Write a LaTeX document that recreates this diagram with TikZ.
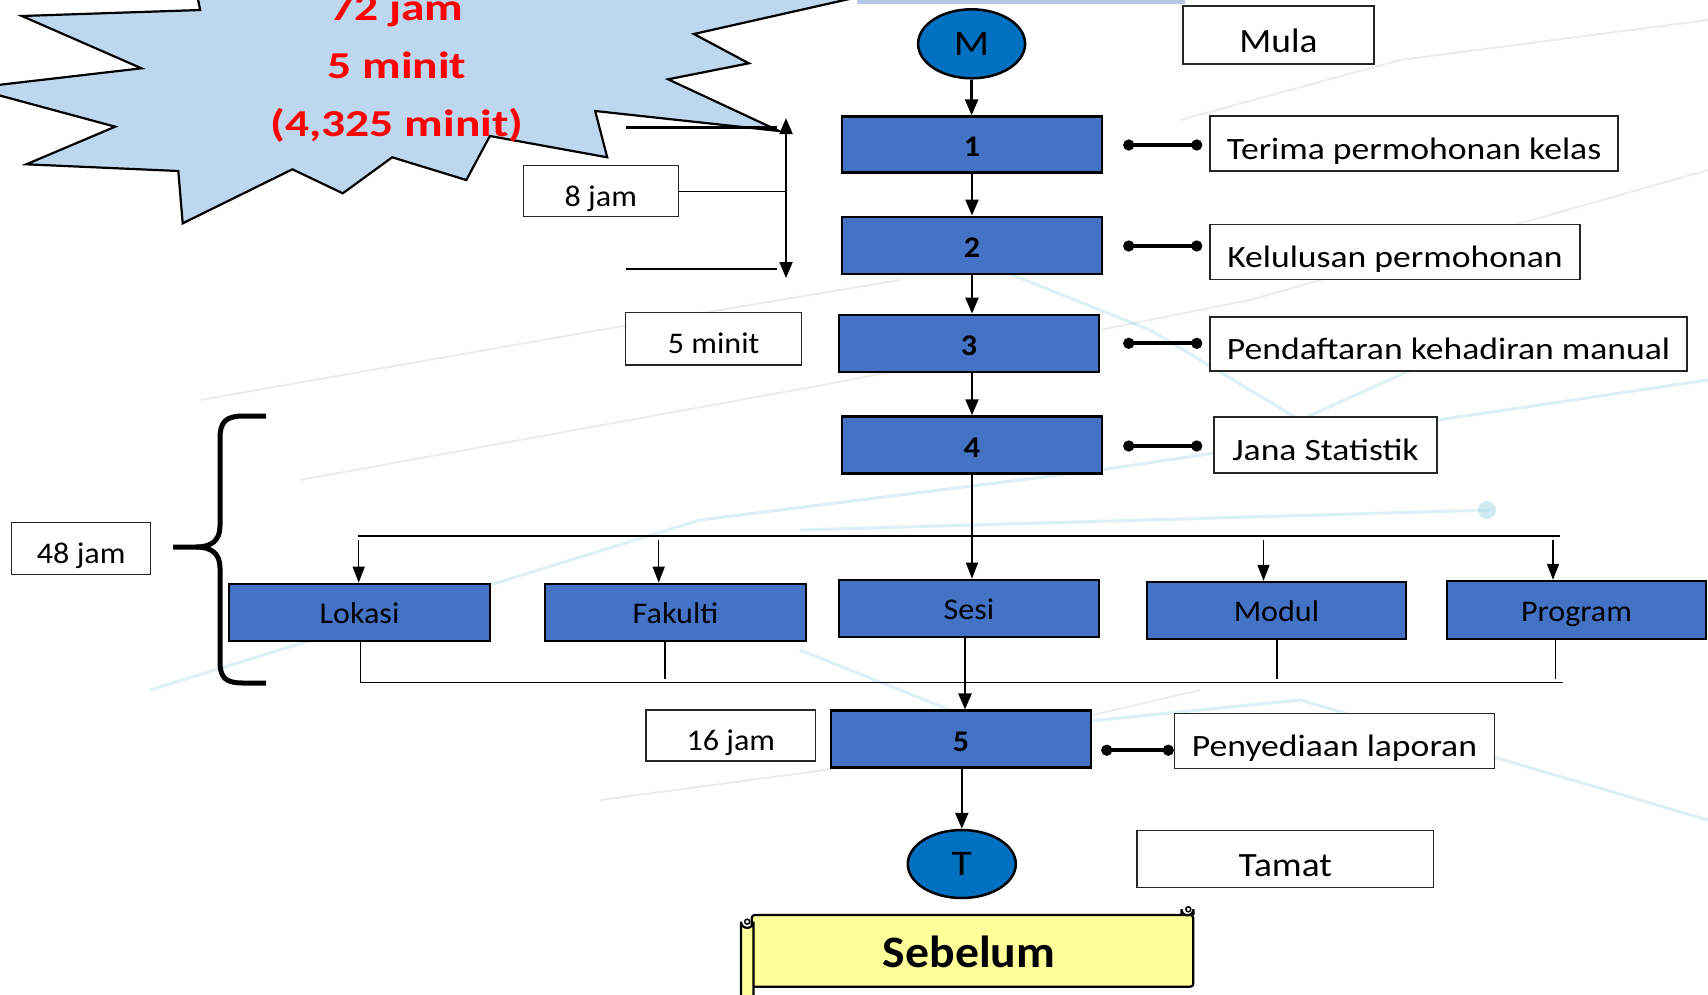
\documentclass[tikz,border=0pt]{standalone}
\usepackage{fontspec}
\setmainfont{Carlito}
\newfontfamily\labfont{Carlito}[FakeStretch=1.15]
\newfontfamily\endfont{Carlito}[FakeStretch=1.1]
\newfontfamily\boxfont{Carlito}[FakeStretch=1.07]
\newfontfamily\redfont{Carlito}[FakeStretch=1.25]
\newfontfamily\sebfont{Carlito}[FakeStretch=1.06]
\usetikzlibrary{arrows.meta,calc,shapes.geometric}
\definecolor{boxblue}{HTML}{4472C4}
\definecolor{ovalblue}{HTML}{0070C0}
\definecolor{burst}{HTML}{BDD7EE}
\definecolor{topband}{HTML}{B4C7E7}
\definecolor{scrollyel}{HTML}{FFFF99}
\definecolor{bgcyan}{HTML}{8CCFE0}
\definecolor{bggray}{HTML}{C8CCD0}
\begin{document}
\begin{tikzpicture}[x=1pt,y=-1pt,
  proc/.style={draw=black, line width=2.5pt, fill=boxblue, inner sep=0pt, text height=27pt, text depth=3pt, font=\boxfont\fontsize{30}{36}\selectfont\bfseries},
  cat/.style={draw=black, line width=2.5pt, fill=boxblue, inner sep=0pt, text height=25pt, text depth=3pt, font=\boxfont\fontsize{30}{36}\selectfont},
  lab/.style={draw=black!85, line width=1.5pt, fill=white, inner sep=0pt, text height=34pt, text depth=3pt, font=\labfont\fontsize{31}{36}\selectfont},
  tlab/.style={draw=black!85, line width=1.5pt, fill=white, inner sep=0pt, text height=33pt, text depth=3pt, font=\boxfont\fontsize{30}{36}\selectfont},
  elab/.style={draw=black!85, line width=1.5pt, fill=white, inner sep=0pt, text height=38.5pt, text depth=4pt, font=\endfont\fontsize{34}{38}\selectfont},
  term/.style={ellipse, draw=black, line width=2.5pt, fill=ovalblue, inner sep=0pt, font=\labfont\fontsize{36}{40}\selectfont},
  arr/.style={line width=2.5pt, -{Triangle[length=16pt,width=13pt]}},
  tarr/.style={line width=1.5pt, -{Triangle[length=16pt,width=12pt]}},
  dumb/.style={line width=4pt, {Circle[length=11pt]}-{Circle[length=11pt]}},
  thinln/.style={line width=1.2pt},
  midln/.style={line width=2.5pt},
  redtxt/.style={text=red, font=\redfont\fontsize{38}{44}\selectfont\bfseries, anchor=base, inner sep=0pt},
  bgline/.style={line width=3pt, bgcyan, opacity=0.3},
  bggline/.style={line width=2pt, bggray, opacity=0.35}
]
\useasboundingbox (0,0) rectangle (1708,994);
\fill[white] (0,0) rectangle (1708,994);
\begin{scope}
\clip (0,0) rectangle (1708,994);
% faint background circuit hints
\draw[bgline] (150,690) -- (700,520) -- (1100,470) -- (1708,380);
\draw[bgline] (800,530) -- (1490,510);
\fill[bgcyan, opacity=0.4] (1487,510) circle (9);
\draw[bgline] (1000,270) -- (1150,330) -- (1300,420) -- (1500,330);
\draw[bgline] (800,650) -- (1000,730) -- (1300,700) -- (1708,820);
\draw[bggline] (300,480) -- (850,380) -- (1250,300) -- (1708,170);
\draw[bggline] (200,400) -- (600,330) -- (900,280);
\draw[bggline] (600,800) -- (900,760) -- (1200,690);
\draw[bggline] (1180,120) -- (1400,60) -- (1708,20);
% top band
\fill[topband] (856.7,-10) rectangle (1185,4);
% starburst
\filldraw[fill=burst, draw=black, line width=2.2pt, line join=miter]
 (192,-30) -- (200.2,10) -- (21.9,16) -- (141.5,68.3) -- (-28,88) -- (115.2,126.7)
 -- (26.3,164.3) -- (178.3,171) -- (182.7,223.3) -- (292.4,169.3) -- (342.8,193.3)
 -- (392.2,157.3) -- (466.3,180) -- (489.9,136) -- (607.2,157.3) -- (595.2,111)
 -- (779,131) -- (668.1,79.3) -- (748.8,63.3) -- (693.9,34) -- (978,-30) -- cycle;
% scroll
\filldraw[fill=scrollyel, draw=black, line width=2.2pt, rounded corners=3pt]
 (751.7,915) rectangle (1193.3,986.7);
\filldraw[fill=scrollyel, draw=black, line width=2.2pt]
 (1181.5,915) -- (1181.5,909.3) arc (180:0:6) -- (1193.5,915);
\draw[line width=1.5pt] (1188.3,909.3) circle (2.5);
\filldraw[fill=scrollyel, draw=black, line width=2.2pt]
 (741,1000) -- (741,921.7) arc (180:0:6.2) -- (753.4,1000);
\draw[line width=1.5pt] (747.2,921.7) circle (2.5);
\end{scope}
\node[font=\sebfont\fontsize{45}{50}\selectfont\bfseries, inner sep=0pt] (seb) at (969,952) {Sebelum};
% starburst text
\node[redtxt] (r1) at (397,20) {72 jam};
\node[redtxt] (r2) at (397,78) {5 minit};
\node[redtxt] (r3) at (397,136) {(4,325 minit)};

% main column
\node[term, minimum width=107pt, minimum height=69pt] (M) at (971.6,43.8) {M};
\node[proc, minimum width=260pt, minimum height=56pt] (b1) at (972,144.6) {1};
\node[proc, minimum width=260pt, minimum height=57pt] (b2) at (972,245.3) {2};
\node[proc, minimum width=260pt, minimum height=57pt] (b3) at (969,343.3) {3};
\node[proc, minimum width=260pt, minimum height=57pt] (b4) at (972,445) {4};

\node[elab, minimum width=191pt, minimum height=58pt] (mula) at (1278.5,35) {Mula};
\node[lab, minimum width=408pt, minimum height=55pt] (t1) at (1414,143.7) {Terima permohonan kelas};
\node[lab, minimum width=370pt, minimum height=55pt] (t2) at (1395,251.8) {Kelulusan permohonan};
\node[lab, minimum width=477pt, minimum height=54pt] (t3) at (1448.5,343.8) {Pendaftaran kehadiran manual};
\node[lab, minimum width=223pt, minimum height=56pt] (t4) at (1325.5,444.8) {Jana Statistik};

\draw[arr] (M.south) -- (M.south |- b1.north);
\draw[arr] (b1.south) -- (b1.south |- b2.north);
\draw[arr] (b2.south) -- (b2.south |- b3.north);
\draw[arr] (b3.south -| b2.south) -- (b2.south |- b4.north);

\draw[dumb] ($(b1.east)+(20,0.4)$) -- ($(b1.east -| t1.west)+(-7,0.4)$);
\draw[dumb] ($(b2.east)+(20,0.7)$) -- ($(b2.east -| t2.west)+(-7,0.7)$);
\draw[dumb] ($(b3.east)+(23,0)$) -- ($(b3.east -| t3.west)+(-7,0)$);
\draw[dumb] ($(b4.east)+(20,1)$) -- ($(b4.east -| t4.west)+(-11,1)$);

% time annotations (top)
\node[tlab, minimum width=155pt, minimum height=51pt] (j8) at (600.8,191.2) {8 jam};
\node[tlab, minimum width=176pt, minimum height=52.7pt] (m5) at (713.7,338.7) {5 minit};
\coordinate (vt) at (786,118);
\coordinate (vb) at (786,278);
\coordinate (ht) at (625.7,127.3);
\coordinate (hb) at (625.7,269);
\draw[line width=2pt, {Triangle[length=16pt,width=13pt]}-{Triangle[length=16pt,width=13pt]}] (vt) -- (vb);
\draw[thinln] (j8.east) -- (j8.east -| vt);
\draw[midln] (ht) -- ($(ht -| vt)+(-9,0)$);
\draw[midln] (hb) -- ($(hb -| vt)+(-9,0)$);

% category row
\coordinate (hl) at (358,536);
\coordinate (hr) at (1560,536);
\draw[thinln] (hl) -- (hr);
\node[cat, minimum width=261pt, minimum height=57pt] (lok) at (359.5,612.4) {Lokasi};
\node[cat, minimum width=261pt, minimum height=57pt] (fak) at (675.5,612.4) {Fakulti};
\node[cat, minimum width=260pt, minimum height=57pt] (ses) at (969,608.4) {Sesi};
\node[cat, minimum width=259pt, minimum height=57pt] (mod) at (1276.5,610.5) {Modul};
\node[cat, minimum width=259pt, minimum height=58pt] (prg) at (1576.5,610) {Program};

\coordinate (aL) at (358.7,540);
\coordinate (aF) at (658.7,540);
\coordinate (aM) at (1263.5,540);
\coordinate (aP) at (1553,540);
\draw[tarr] (aL) -- (aL |- lok.north);
\draw[tarr] (aF) -- (aF |- fak.north);
\draw[tarr] (b4.south -| b2.south) -- (b2.south |- ses.north);
\draw[tarr] (aM) -- (aM |- mod.north);
\draw[tarr] (aP) -- (aP |- prg.north);

\coordinate (bl) at (360.6,682.7);
\coordinate (br) at (1563,682.7);
\draw[thinln] (bl) -- (br);
\draw[thinln] (lok.south -| bl) -- (bl);
\coordinate (dF) at (665,679);
\coordinate (dM) at (1277,679);
\coordinate (dP) at (1555.8,679);
\draw[thinln] (dF |- fak.south) -- (dF);
\draw[thinln] (dM |- mod.south) -- (dM);
\draw[thinln] (dP |- prg.south) -- (dP);

% brace and 48 jam
\node[tlab, minimum width=139pt, minimum height=51.6pt] (j48) at (81.2,548.5) {48 jam};
\draw[line width=5pt, line cap=butt]
 (266,416) -- (243,416) .. controls (226,416) and (220,422) .. (220,438) -- (220,526)
 .. controls (220,540) and (212,547) .. (196,547) -- (173,547);
\draw[line width=5pt, line cap=butt]
 (196,547) .. controls (212,547) and (220,554) .. (220,568) -- (220,662)
 .. controls (220,678) and (226,683) .. (243,683) -- (266,683);

% step 5 and end
\node[proc, minimum width=260pt, minimum height=57pt] (b5) at (961,739.2) {5};
\coordinate (s5) at (965,636);
\draw[arr] (s5) -- (s5 |- b5.north);
\node[lab, minimum width=320pt, minimum height=55pt] (pl) at (1334.5,740.8) {Penyediaan laporan};
\draw[dumb] ($(b5.east)+(9,11)$) -- ($(b5.east -| pl.west)+(0,11)$);
\node[tlab, minimum width=169.6pt, minimum height=51pt] (j16) at (730.8,735.5) {16 jam};
\node[term, minimum width=108pt, minimum height=68pt] (T) at (961.8,864) {T};
\draw[arr] (b5.south -| T.north) -- (T.north);
\node[elab, minimum width=296.5pt, minimum height=57pt] (tamat) at (1285.3,859.2) {Tamat};
\end{tikzpicture}
\end{document}
